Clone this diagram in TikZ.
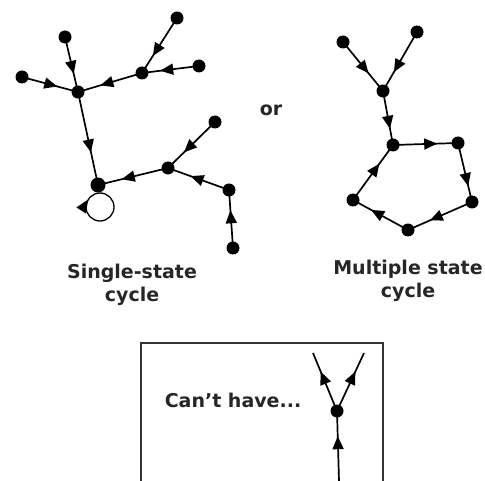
\documentclass[tikz,border=0pt]{standalone}
\usepackage{fontspec}
\setmainfont{DejaVu Sans}
\usetikzlibrary{arrows.meta,decorations.markings}
\tikzset{
  dot/.style={circle,fill=black,inner sep=0pt,minimum size=13pt},
  lbl/.style={align=center,font=\fontsize{19}{23}\selectfont\bfseries,text=black!85,inner sep=0pt},
  arr/.style={line width=1.7pt,postaction={decorate},
    decoration={markings,mark=at position #1 with {\arrow{Triangle[length=13pt,width=11pt]}}}},
  arr/.default=0.63,
  frame/.style={line width=2pt,draw=black!80}
}
\begin{document}
\begin{tikzpicture}[x=1pt,y=-1pt]
\useasboundingbox (0,0) rectangle (485,481);
% left graph
\node[dot] (A) at (65,37) {};
\node[dot] (B) at (177,18) {};
\node[dot] (C) at (22,77) {};
\node[dot] (D) at (78,92) {};
\node[dot] (E) at (142,73) {};
\node[dot] (F) at (199,66) {};
\node[dot] (G) at (215,122) {};
\node[dot] (H) at (168,168) {};
\node[dot,minimum size=15pt] (I) at (98,185) {};
\node[dot] (J) at (229,190) {};
\node[dot] (K) at (233,248) {};
\draw[arr=0.67] (A.center) -- (D.center);
\draw[arr=0.63] (C.center) -- (D.center);
\draw[arr=0.65] (E.center) -- (D.center);
\draw[arr=0.69] (B.center) -- (E.center);
\draw[arr=0.68] (F.center) -- (E.center);
\draw[arr=0.65] (D.center) -- (I.center);
\draw[arr=0.66] (H.center) -- (I.center);
\draw[arr=0.66] (G.center) -- (H.center);
\draw[arr=0.63] (J.center) -- (H.center);
\draw[arr=0.65] (K.center) -- (J.center);
\coordinate (looptop) at (100,193);
\draw[arr=0.84,line width=1.3pt] (looptop) arc[start angle=-90,end angle=270,radius=14];
% right graph
\node[dot] (P) at (343,42) {};
\node[dot] (Q) at (417,32) {};
\node[dot] (R) at (383,91) {};
\node[dot] (S) at (393,145) {};
\node[dot] (T) at (458,143) {};
\node[dot] (U) at (472,202) {};
\node[dot] (V) at (408,230) {};
\node[dot] (W) at (353,200) {};
\draw[arr=0.64] (P.center) -- (R.center);
\draw[arr=0.68] (Q.center) -- (R.center);
\draw[arr=0.7] (R.center) -- (S.center);
\draw[arr=0.68] (S.center) -- (T.center);
\draw[arr=0.73] (T.center) -- (U.center);
\draw[arr=0.66] (U.center) -- (V.center);
\draw[arr=0.67] (V.center) -- (W.center);
\draw[arr=0.66] (W.center) -- (S.center);
% labels
\node[lbl] (or) at (271,110) {or};
\node[lbl] (single) at (132,285) {Single-state\\cycle};
\node[lbl] (multi) at (408,281) {Multiple state\\cycle};
% box
\coordinate (b1) at (141,481);
\coordinate (b2) at (141,343);
\coordinate (b3) at (383,343);
\coordinate (b4) at (383,481);
\draw[frame] (b1) -- (b2) -- (b3) -- (b4);
\node[lbl] (cant) at (233,400) {Can't have...};
\node[dot] (Y) at (337,411) {};
\coordinate (y1) at (313,353);
\coordinate (y2) at (364,353);
\coordinate (y0) at (339,481);
\draw[arr=0.64] (y0) -- (Y.center);
\draw[arr=0.68] (Y.center) -- (y1);
\draw[arr=0.68] (Y.center) -- (y2);
\end{tikzpicture}
\end{document}
